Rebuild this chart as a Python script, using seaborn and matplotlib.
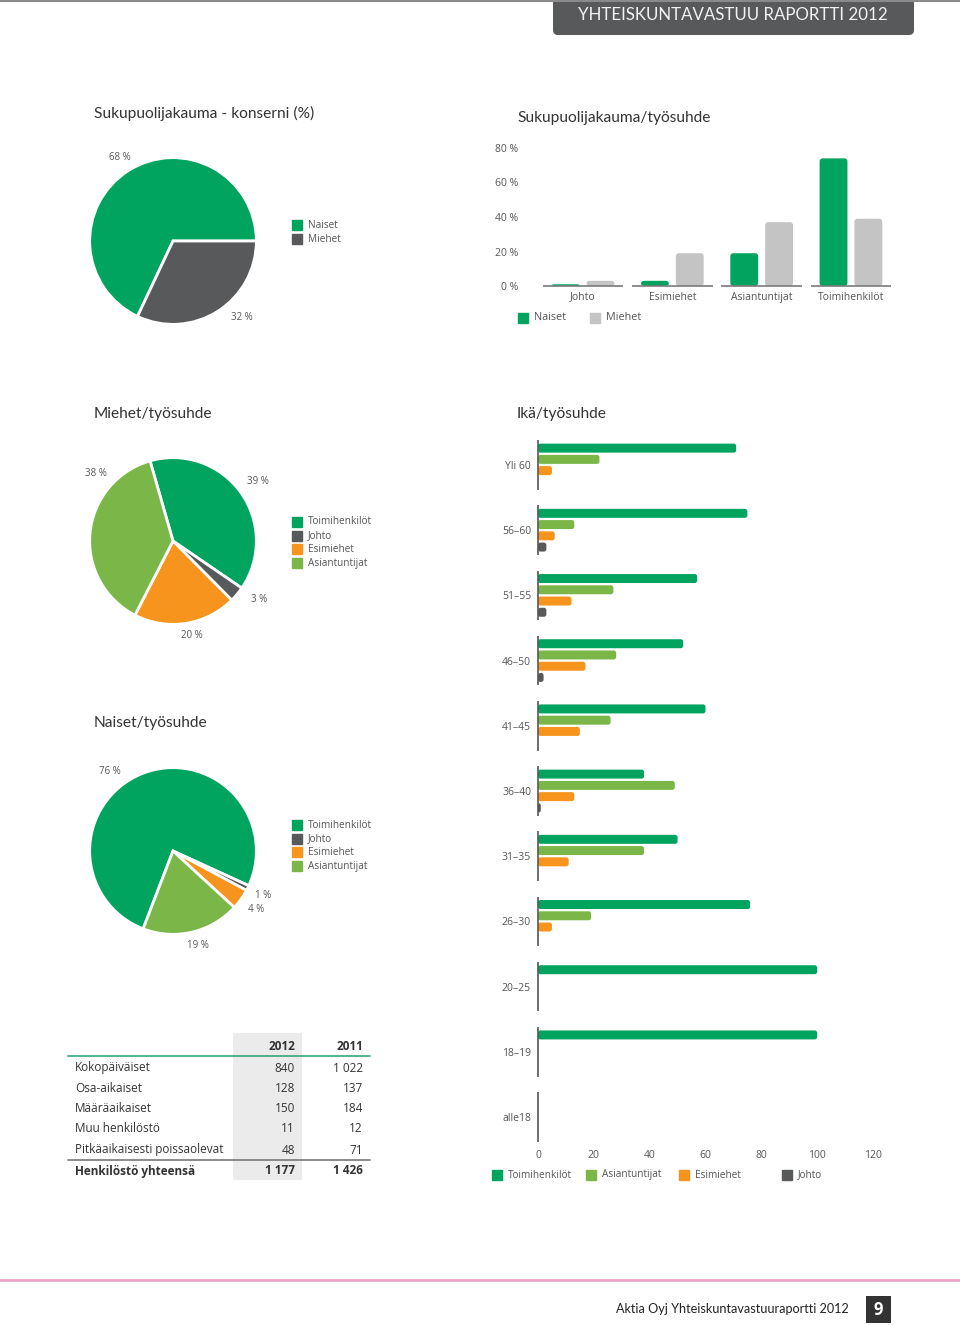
import numpy as np
import pandas as pd
import matplotlib
matplotlib.use("Agg")
import matplotlib.pyplot as plt
import seaborn as sns
from matplotlib.patches import FancyBboxPatch, Rectangle
from matplotlib.lines import Line2D

# --- Data ---
sukupuoli = ["Naiset", "Miehet"]
konserni_osuus = [68, 32]

tyosuhteet = ["Johto", "Esimiehet", "Asiantuntijat", "Toimihenkilöt"]
naiset_pct = [1, 3, 19, 74]
miehet_pct = [3, 19, 37, 39]

pie_luokat = ["Toimihenkilöt", "Johto", "Esimiehet", "Asiantuntijat"]
miehet_tyosuhde = [39, 3, 20, 38]
naiset_tyosuhde = [76, 1, 4, 19]

ika_ryhmat = ["Yli 60", "56–60", "51–55", "46–50", "41–45", "36–40",
              "31–35", "26–30", "20–25", "18–19", "alle18"]
ika_sarjat = ["Toimihenkilöt", "Asiantuntijat", "Esimiehet", "Johto"]
ika_toimihenkilot = [71, 75, 57, 52, 60, 38, 50, 76, 100, 100, 0]
ika_asiantuntijat = [22, 13, 27, 28, 26, 49, 38, 19, 0, 0, 0]
ika_esimiehet = [5, 6, 12, 17, 15, 13, 11, 5, 0, 0, 0]
ika_johto = [0, 3, 3, 2, 0, 1, 0, 0, 0, 0, 0]
ika_ticks = [0, 20, 40, 60, 80, 100, 120]

taulu_rivit = ["Kokopäiväiset", "Osa-aikaiset", "Määräaikaiset", "Muu henkilöstö",
               "Pitkäaikaisesti poissaolevat", "Henkilöstö yhteensä"]
taulu_2012 = [840, 128, 150, 11, 48, 1177]
taulu_2011 = [1022, 137, 184, 12, 71, 1426]

# --- Style ---
GREEN = "#00a45f"
LGREEN = "#7ab648"
ORANGE = "#f7941d"
DGREY = "#58595b"
LGREY = "#c4c4c4"
TXT = "#333333"
SUB = "#555555"
pie_colors = [GREEN, DGREY, ORANGE, LGREEN]
ika_colors = [GREEN, LGREEN, ORANGE, DGREY]
LATO = ["Lato", "DejaVu Sans"]

sns.set_theme(style="white")
plt.rcParams["font.family"] = ["Open Sans", "DejaVu Sans"]
plt.rcParams["axes.facecolor"] = "none"

W, H = 960, 1325
fig = plt.figure(figsize=(W / 100, H / 100), dpi=100)


def px_axes(x0, y0, x1, y1):
    return fig.add_axes([x0 / W, 1 - y1 / H, (x1 - x0) / W, (y1 - y0) / H])


def round_bars(ax, rx, ry):
    # swap seaborn's rectangles for rounded ones (radius given in data units)
    for p in list(ax.patches):
        x, y = p.get_xy()
        w, h = p.get_width(), p.get_height()
        if w == 0 or h == 0:
            p.remove()
            continue
        r = min(rx, abs(w) / 2)
        fb = FancyBboxPatch((x, y), w, h, boxstyle=f"round,pad=0,rounding_size={r}",
                            mutation_aspect=min(ry, abs(h) / 2) / r,
                            fc=p.get_facecolor(), ec="none")
        p.remove()
        ax.add_patch(fb)


# overlay in pixel coordinates for page decorations
page = px_axes(0, 0, W, H)
page.set_xlim(0, W)
page.set_ylim(H, 0)
page.axis("off")


def key(x, y, color, label, size=7.2):
    page.add_line(Line2D([x], [y], marker="s", markersize=7, color=color, linestyle="none"))
    page.text(x + 11, y, label, fontsize=size, color=SUB, va="center", ha="left")


def fmt(v):
    return f"{v:,}".replace(",", " ")


# header
page.plot([0, W], [1, 1], color="#8a8a8a", lw=1.5)
page.add_patch(FancyBboxPatch((553, -10), 361, 45, boxstyle="round,pad=0,rounding_size=5",
                              fc=DGREY, ec="none"))
page.text(733, 14.5, "YHTEISKUNTAVASTUU RAPORTTI 2012", color="#f2f2f2", fontsize=12.2,
          ha="center", va="center", family=LATO)

# titles
for x, y, t in [(94, 113, "Sukupuolijakauma - konserni (%)"), (517, 118, "Sukupuolijakauma/työsuhde"),
                (94, 414, "Miehet/työsuhde"), (517, 414, "Ikä/työsuhde"), (94, 723, "Naiset/työsuhde")]:
    page.text(x, y, t, fontsize=11.2, color=TXT, va="center", ha="left", family=LATO)

# --- Pie 1: konserni ---
ax = px_axes(88, 156, 258, 326)
ax.pie(konserni_osuus, colors=[GREEN, DGREY], startangle=0, counterclock=True,
       wedgeprops=dict(edgecolor="white", linewidth=2))
ax.set_xlim(-1.02, 1.02)
ax.set_ylim(-1.02, 1.02)
for (x, y), v in zip([(120, 158), (242, 318)], konserni_osuus):
    page.text(x, y, f"{v} %", fontsize=7, color=SUB, ha="center", va="center")
key(297, 225, GREEN, sukupuoli[0])
key(297, 239, DGREY, sukupuoli[1])

# --- Pie 2: miehet ---
ax = px_axes(88, 456, 258, 626)
ax.pie(miehet_tyosuhde, colors=pie_colors, startangle=106, counterclock=False,
       wedgeprops=dict(edgecolor="white", linewidth=2))
ax.set_xlim(-1.02, 1.02)
ax.set_ylim(-1.02, 1.02)
for (x, y), v in zip([(258, 481), (259, 599), (192, 635), (96, 473)], miehet_tyosuhde):
    page.text(x, y, f"{v} %", fontsize=7, color=SUB, ha="center", va="center")
for i, (lab, c) in enumerate(zip(pie_luokat, pie_colors)):
    key(297, 522 + i * 13.7, c, lab)

# --- Pie 3: naiset ---
ax = px_axes(88, 766, 258, 936)
ax.pie(naiset_tyosuhde, colors=pie_colors, startangle=249, counterclock=False,
       wedgeprops=dict(edgecolor="white", linewidth=2))
ax.set_xlim(-1.02, 1.02)
ax.set_ylim(-1.02, 1.02)
for (x, y), v in zip([(110, 772), (263, 895), (256, 910), (198, 945)], naiset_tyosuhde):
    page.text(x, y, f"{v} %", fontsize=7, color=SUB, ha="center", va="center")
for i, (lab, c) in enumerate(zip(pie_luokat, pie_colors)):
    key(297, 825 + i * 13.7, c, lab)

# --- Grouped bar: sukupuoli / työsuhde ---
df_sp = pd.DataFrame({"Työsuhde": tyosuhteet, "Naiset": naiset_pct, "Miehet": miehet_pct})
df_sp = df_sp.melt(id_vars="Työsuhde", var_name="Sukupuoli", value_name="Osuus")
ax = px_axes(542, 148, 892, 286)
sns.barplot(data=df_sp, x="Työsuhde", y="Osuus", hue="Sukupuoli", hue_order=sukupuoli,
            order=tyosuhteet, palette=[GREEN, LGREY], saturation=1, width=0.78, gap=0.2,
            errorbar=None, legend=False, ax=ax)
ax.set_xlim(-0.46, len(tyosuhteet) - 0.54)
ax.set_ylim(0, 80)
ax.set_yticks([0, 20, 40, 60, 80])
ax.set_yticklabels([f"{t} %" for t in [0, 20, 40, 60, 80]])
ax.tick_params(axis="y", length=0, pad=17, labelsize=7.5, labelcolor=SUB)
ax.tick_params(axis="x", length=0, pad=4, labelsize=7.5, labelcolor=SUB)
ax.set_xlabel("")
ax.set_ylabel("")
sns.despine(ax=ax, left=True, bottom=True)
round_bars(ax, 3 / 89.3, 3 / 1.725)
for i in range(len(tyosuhteet)):
    ax.hlines(0, i - 0.45, i + 0.45, color="#7a7a7a", lw=1.2, clip_on=False)
key(523, 318, GREEN, sukupuoli[0], size=7.8)
key(595, 318, LGREY, sukupuoli[1], size=7.8)

# --- Horizontal bar: ikä / työsuhde ---
df_ika = pd.DataFrame({"Ikä": ika_ryhmat, "Toimihenkilöt": ika_toimihenkilot,
                       "Asiantuntijat": ika_asiantuntijat, "Esimiehet": ika_esimiehet,
                       "Johto": ika_johto})
df_ika = df_ika.melt(id_vars="Ikä", var_name="Työsuhde", value_name="Lkm")
ax = px_axes(538, 432.4, 873, 1149.6)
sns.barplot(data=df_ika, x="Lkm", y="Ikä", hue="Työsuhde", hue_order=ika_sarjat,
            order=ika_ryhmat, palette=ika_colors, saturation=1, orient="h",
            width=0.69, gap=0.2, errorbar=None, legend=False, ax=ax)
ax.set_xlim(0, 120)
ax.set_ylim(len(ika_ryhmat) - 0.5, -0.5)
ax.set_xticks(ika_ticks)
ax.tick_params(axis="x", length=0, pad=0, labelsize=7.5, labelcolor=SUB)
ax.tick_params(axis="y", length=0, pad=5, labelsize=7.5, labelcolor=SUB)
ax.set_xlabel("")
ax.set_ylabel("")
sns.despine(ax=ax, left=True, bottom=True)
round_bars(ax, 2.5 / 2.79, 2.5 / 65.2)
for i in range(len(ika_ryhmat)):
    ax.vlines(0, i - 0.38, i + 0.38, color="#555555", lw=1.2, clip_on=False)
for x, lab, c in zip([497, 591, 684, 787], ika_sarjat, ika_colors):
    key(x, 1175, c, lab)

# --- Table ---
page.add_patch(Rectangle((233, 1033), 69, 147, fc="#ebebeb", ec="none"))
page.text(295, 1047, "2012", fontsize=8.5, color=TXT, fontweight="bold", ha="right", va="center")
page.text(363, 1047, "2011", fontsize=8.5, color=TXT, fontweight="bold", ha="right", va="center")
page.plot([68, 370], [1056, 1056], color="#3aa57a", lw=1.2)
page.plot([68, 370], [1160, 1160], color="#777777", lw=1.2)
row_y = [1068, 1089, 1108, 1129, 1150, 1171]
for i, (lab, a, b, y) in enumerate(zip(taulu_rivit, taulu_2012, taulu_2011, row_y)):
    w = "bold" if i == len(taulu_rivit) - 1 else "normal"
    page.text(75, y, lab, fontsize=8.5, color=TXT, fontweight=w, ha="left", va="center")
    page.text(295, y, fmt(a), fontsize=8.5, color=TXT, fontweight=w, ha="right", va="center")
    page.text(363, y, fmt(b), fontsize=8.5, color=TXT, fontweight=w, ha="right", va="center")

# --- Footer ---
page.plot([0, W], [1280, 1280], color="#e9a6c8", lw=2)
page.text(849, 1309, "Aktia Oyj Yhteiskuntavastuuraportti 2012", fontsize=9.1, color="#222222",
          ha="right", va="center", family=LATO)
page.add_patch(Rectangle((866, 1296), 25, 27, fc="#333333", ec="none"))
page.text(878.5, 1310, "9", fontsize=12, color="white", fontweight="bold", ha="center", va="center")

fig.savefig("out.png", dpi=100)
